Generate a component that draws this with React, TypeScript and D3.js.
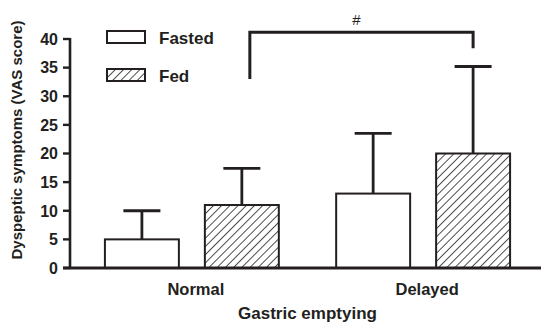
import React from 'react';
import * as d3 from 'd3';

const groups = ['Normal', 'Delayed'];
const conditions = ['Fasted', 'Fed'];
const fastedMean = [5, 13];
const fastedSD = [5, 10.5];
const fedMean = [11, 20];
const fedSD = [6.4, 15.2];
const yTicks = [0, 5, 10, 15, 20, 25, 30, 35, 40];
// significance bracket between the two fed bars (VAS units)
const bracketLeft = 33;
const bracketRight = 38.4;
const bracketTop = 41.2;
const bracketLabel = '#';

const ink = '#231f20';
const font = '"Liberation Sans", Arial, Helvetica, sans-serif';

const App = () => {
  const width = 544;
  const height = 326;

  const y = d3.scaleLinear().domain([0, 40]).range([268, 39]);
  const x0 = d3
    .scaleBand()
    .domain(groups)
    .range([70, 545])
    .paddingInner(0.248)
    .paddingOuter(0.151);
  const x1 = d3
    .scaleBand()
    .domain(conditions)
    .range([0, x0.bandwidth()])
    .paddingInner(0.26)
    .paddingOuter(0);

  const rows = groups.flatMap((g, i) => [
    { group: g, cond: 'Fasted', mean: fastedMean[i], sd: fastedSD[i] },
    { group: g, cond: 'Fed', mean: fedMean[i], sd: fedSD[i] },
  ]);

  const barX = (d) => (x0(d.group) ?? 0) + (x1(d.cond) ?? 0);
  const barMid = (d) => barX(d) + x1.bandwidth() / 2;
  const capHalf = 18.5;

  const fedLeft = barMid(rows[1]) + 8;
  const fedRight = barMid(rows[3]);
  const midGroups = ((x0('Normal') ?? 0) + (x0('Delayed') ?? 0) + x0.bandwidth()) / 2;

  return (
    <svg
      width={width}
      height={height}
      style={{ position: 'absolute', left: 0, top: 0, background: '#fff' }}
      fontFamily={font}
    >
      <defs>
        <pattern
          id="hatch"
          patternUnits="userSpaceOnUse"
          width={5.8}
          height={5.8}
          patternTransform="rotate(45)"
        >
          <rect width={5.8} height={5.8} fill="#fff" />
          <line x1={0} y1={0} x2={0} y2={5.8} stroke={ink} strokeWidth={1.6} />
        </pattern>
      </defs>

      {/* error bars */}
      {rows.map((d, i) => (
        <g key={'e' + i} stroke={ink} strokeWidth={2.8}>
          <line x1={barMid(d)} x2={barMid(d)} y1={y(d.mean)} y2={y(d.mean + d.sd)} />
          <line
            x1={barMid(d) - capHalf}
            x2={barMid(d) + capHalf}
            y1={y(d.mean + d.sd)}
            y2={y(d.mean + d.sd)}
          />
        </g>
      ))}

      {/* bars */}
      {rows.map((d, i) => (
        <rect
          key={'b' + i}
          x={barX(d)}
          y={y(d.mean)}
          width={x1.bandwidth()}
          height={y(0) - y(d.mean)}
          fill={d.cond === 'Fed' ? 'url(#hatch)' : '#fff'}
          stroke={ink}
          strokeWidth={2}
        />
      ))}

      {/* axes */}
      <line x1={70} x2={70} y1={y(40) - 1} y2={y(0)} stroke={ink} strokeWidth={2.6} />
      <line x1={63} x2={541} y1={y(0)} y2={y(0)} stroke={ink} strokeWidth={2.8} />
      {yTicks.map((t) => (
        <g key={t}>
          <line x1={63} x2={70} y1={y(t)} y2={y(t)} stroke={ink} strokeWidth={2.4} />
          <text
            x={58}
            y={y(t)}
            dy="0.36em"
            textAnchor="end"
            fontSize={16}
            fontWeight="bold"
            fill={ink}
          >
            {t}
          </text>
        </g>
      ))}
      {groups.map((g) => (
        <text
          key={g}
          x={(x0(g) ?? 0) + x0.bandwidth() / 2 + 4}
          y={295}
          textAnchor="middle"
          fontSize={16.5}
          fontWeight="bold"
          fill={ink}
        >
          {g}
        </text>
      ))}
      <text x={midGroups} y={319} textAnchor="middle" fontSize={17} fontWeight="bold" fill={ink}>
        Gastric emptying
      </text>
      <text
        transform={`translate(22, 140) rotate(-90)`}
        textAnchor="middle"
        fontSize={15}
        fontWeight="bold"
        fill={ink}
      >
        Dyspeptic symptoms (VAS score)
      </text>

      {/* legend */}
      {conditions.map((c, i) => (
        <g key={c} transform={`translate(107, ${31 + i * 38})`}>
          <rect
            width={38}
            height={12}
            fill={c === 'Fed' ? 'url(#hatch)' : '#fff'}
            stroke={ink}
            strokeWidth={2}
          />
          <text x={52} y={12.5} fontSize={17} fontWeight="bold" fill={ink}>
            {c}
          </text>
        </g>
      ))}

      {/* significance bracket */}
      <path
        d={`M${fedLeft},${y(bracketLeft)} V${y(bracketTop)} H${fedRight} V${y(bracketRight)}`}
        fill="none"
        stroke={ink}
        strokeWidth={3}
      />
      <text
        x={(fedLeft + fedRight) / 2 - 5}
        y={25}
        textAnchor="middle"
        fontSize={15}
        fill={ink}
      >
        {bracketLabel}
      </text>
    </svg>
  );
};

export default App;
